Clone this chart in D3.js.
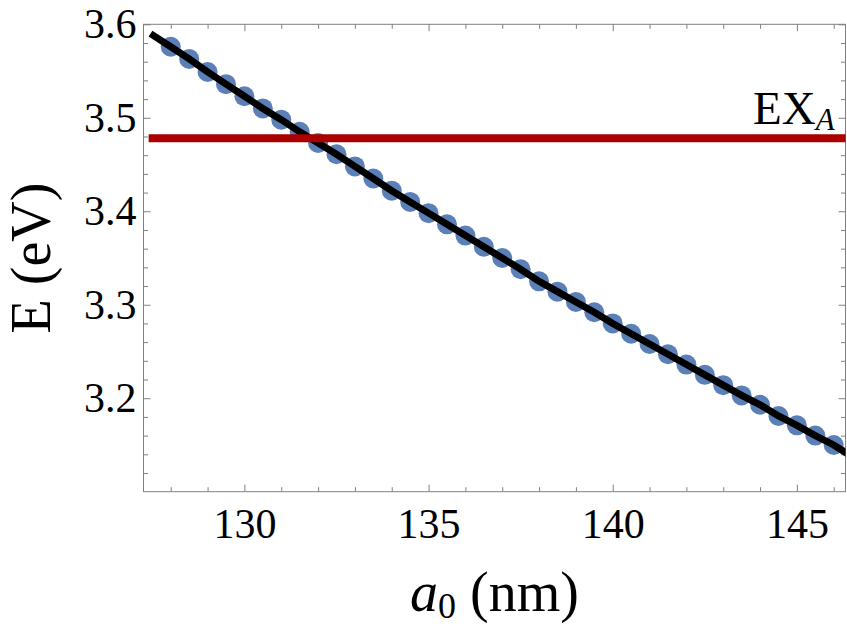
<!DOCTYPE html>
<html>
<head>
<meta charset="utf-8">
<script src="https://cdn.jsdelivr.net/npm/d3@7"></script>
<style>
  body { margin: 0; background: #fff; }
  text { font-family: "Liberation Serif", "Times New Roman", serif; }
</style>
</head>
<body>
<div id="chart"></div>
<script>
// lattice constant a0 (nm) and computed energies (eV)
const a0 = [128, 128.5, 129, 129.5, 130, 130.5, 131, 131.5, 132, 132.5, 133, 133.5,
            134, 134.5, 135, 135.5, 136, 136.5, 137, 137.5, 138, 138.5, 139, 139.5,
            140, 140.5, 141, 141.5, 142, 142.5, 143, 143.5, 144, 144.5, 145, 145.5, 146];
const energy = [3.576, 3.563, 3.549, 3.536, 3.523, 3.510, 3.498, 3.485, 3.473, 3.461, 3.448, 3.435,
                3.422, 3.410, 3.398, 3.386, 3.374, 3.362, 3.350, 3.338, 3.325, 3.314, 3.303, 3.292,
                3.280, 3.269, 3.258, 3.247, 3.236, 3.225, 3.214, 3.203, 3.193, 3.181, 3.171, 3.160, 3.150];
// fitted curve (black) ends beyond the points
const fitA = [127.45].concat(a0, [146.4]);
const fitE = [3.590].concat(energy, [3.140]);
// exciton A level
const exA = 3.478;
const exRange = [127.4, 146.5];

const xMajor = [130, 135, 140, 145];
const yMajor = [3.2, 3.3, 3.4, 3.5, 3.6];

const width = 847, height = 630;
const margin = {top: 24.3, right: 1.5, bottom: 138.3, left: 143.5};
const w = width - margin.left - margin.right;
const h = height - margin.top - margin.bottom;

const svg = d3.select("#chart").append("svg")
  .attr("width", width)
  .attr("height", height);

const g = svg.append("g")
  .attr("transform", `translate(${margin.left},${margin.top})`);

const x = d3.scaleLinear().domain([127.26, 146.32]).range([0, w]);
const y = d3.scaleLinear().domain([3.1, 3.6]).range([h, 0]);

g.append("clipPath").attr("id", "clip")
  .append("rect").attr("width", w).attr("height", h);

// minor ticks
const xMinor = d3.range(128, 147, 1).filter(v => v % 5 !== 0);
const yMinor = d3.range(3.12, 3.6, 0.02).filter(v => Math.abs(v * 10 - Math.round(v * 10)) > 1e-6);

function axisStyle(sel) {
  sel.select(".domain").remove();
  sel.selectAll(".tick line").attr("stroke", "#808080").attr("stroke-width", 1);
  sel.selectAll(".tick text").attr("fill", "#000").style("font-size", "42px")
    .style("font-family", "'Liberation Serif', serif");
}

const fmt = d3.format(".1f");
// bottom
g.append("g").attr("transform", `translate(0,${h})`)
  .call(d3.axisBottom(x).tickValues(xMajor).tickSizeInner(-7).tickPadding(16).tickFormat(d3.format("d")))
  .call(axisStyle);
g.append("g").attr("transform", `translate(0,${h})`)
  .call(d3.axisBottom(x).tickValues(xMinor).tickSizeInner(-4.5).tickFormat(""))
  .call(axisStyle);
// top
g.append("g")
  .call(d3.axisTop(x).tickValues(xMajor).tickSizeInner(-7).tickFormat(""))
  .call(axisStyle);
g.append("g")
  .call(d3.axisTop(x).tickValues(xMinor).tickSizeInner(-4.5).tickFormat(""))
  .call(axisStyle);
// left
g.append("g")
  .call(d3.axisLeft(y).tickValues(yMajor).tickSizeInner(-7).tickPadding(7).tickFormat(fmt))
  .call(axisStyle);
g.append("g")
  .call(d3.axisLeft(y).tickValues(yMinor).tickSizeInner(-4.5).tickFormat(""))
  .call(axisStyle);
// right
g.append("g").attr("transform", `translate(${w},0)`)
  .call(d3.axisRight(y).tickValues(yMajor).tickSizeInner(-7).tickFormat(""))
  .call(axisStyle);
g.append("g").attr("transform", `translate(${w},0)`)
  .call(d3.axisRight(y).tickValues(yMinor).tickSizeInner(-4.5).tickFormat(""))
  .call(axisStyle);

// frame
g.append("rect")
  .attr("width", w).attr("height", h)
  .attr("fill", "none").attr("stroke", "#808080").attr("stroke-width", 1);

const plot = g.append("g").attr("clip-path", "url(#clip)");

// points
plot.selectAll("circle")
  .data(a0)
  .enter().append("circle")
  .attr("cx", d => x(d))
  .attr("cy", (d, i) => y(energy[i]))
  .attr("r", 10)
  .attr("fill", "#5b80b8");

// fit line
const line = d3.line()
  .x(d => x(d[0]))
  .y(d => y(d[1]));
plot.append("path")
  .datum(fitA.map((d, i) => [d, fitE[i]]))
  .attr("d", line)
  .attr("fill", "none")
  .attr("stroke", "#000")
  .attr("stroke-width", 7);

// EX_A line
plot.append("path")
  .datum(exRange.map(d => [d, exA]))
  .attr("d", line)
  .attr("stroke", "#aa0000")
  .attr("stroke-width", 8);

const lbl = g.append("text")
  .attr("x", 753 - margin.left)
  .attr("y", y(exA) - 14.5)
  .style("font-size", "47px");
lbl.append("tspan").text("EX");
lbl.append("tspan").attr("font-style", "italic").attr("dy", 6).style("font-size", "31px").text("A");

// axis titles
const xt = svg.append("text")
  .attr("x", margin.left + w / 2)
  .attr("y", 611)
  .attr("text-anchor", "middle")
  .style("font-size", "56px");
xt.append("tspan").attr("font-style", "italic").text("a");
xt.append("tspan").attr("dy", 7).style("font-size", "36px").text("0");
xt.append("tspan").attr("dy", -7).text(" (nm)");

svg.append("text")
  .attr("transform", `translate(50,${margin.top + h / 2}) rotate(-90)`)
  .attr("text-anchor", "middle")
  .style("font-size", "56px")
  .text("E (eV)");
</script>
</body>
</html>
